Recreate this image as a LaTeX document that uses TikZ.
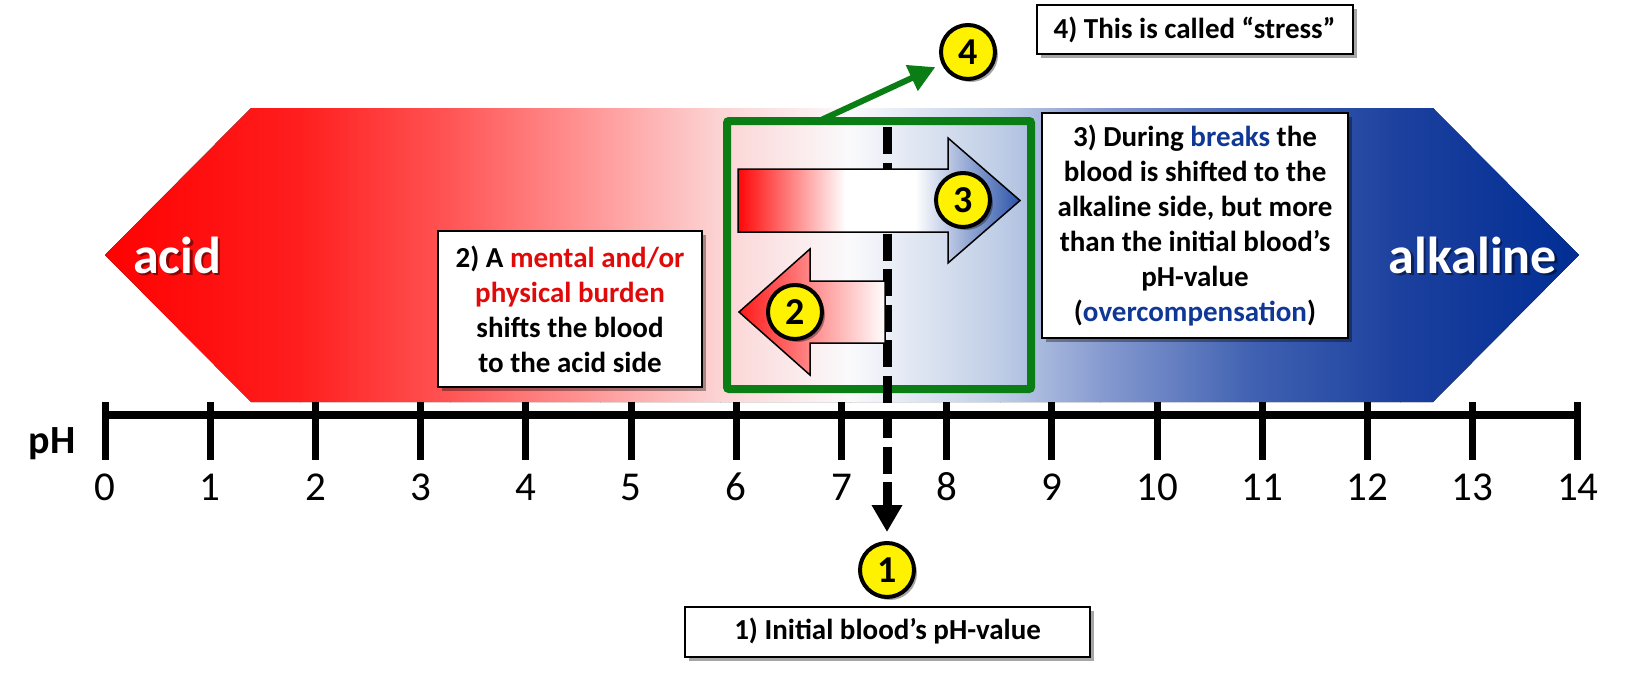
\documentclass[tikz,border=0pt]{standalone}
\usepackage{fontspec}
\setmainfont{Carlito}
\usetikzlibrary{arrows.meta,shadows}
\definecolor{gbox}{RGB}{10,125,20}
\definecolor{txtred}{RGB}{225,10,10}
\definecolor{txtblue}{RGB}{15,55,150}
\definecolor{h0}{RGB}{255,0,0}
\definecolor{h1}{RGB}{255,30,30}
\definecolor{h2}{RGB}{255,85,85}
\definecolor{h3}{RGB}{255,155,155}
\definecolor{h4}{RGB}{252,212,212}
\definecolor{h5}{RGB}{250,250,252}
\definecolor{h6}{RGB}{190,205,230}
\definecolor{h7}{RGB}{135,155,208}
\definecolor{h8}{RGB}{65,98,178}
\definecolor{h9}{RGB}{28,64,158}
\definecolor{h10}{RGB}{0,45,148}
\definecolor{ab}{RGB}{40,80,168}
\tikzset{
  txtbox/.style={draw=black, line width=2pt, fill=white, inner sep=0pt, align=center,
    font=\fontsize{29}{35}\selectfont\bfseries,
    drop shadow={shadow xshift=4pt, shadow yshift=-4pt, opacity=0.35, fill=black}},
  numcirc/.style={circle, draw=black, line width=4pt, fill=yellow, minimum size=54pt, inner sep=0pt,
    font=\fontsize{38}{38}\selectfont\bfseries,
    drop shadow={shadow xshift=3pt, shadow yshift=-3pt, opacity=0.35, fill=black}},
  numlbl/.style={font=\fontsize{41}{41}\selectfont, inner sep=0pt},
  sidelbl/.style={font=\fontsize{52}{52}\selectfont\bfseries, inner sep=0pt, text=white},
  sideshadow/.style={font=\fontsize{52}{52}\selectfont\bfseries, inner sep=0pt, text=black, opacity=0.45},
  bigarrow/.style={draw=black, line width=1.5pt},
}
\begin{document}
\begin{tikzpicture}[x=1pt,y=-1pt]
\useasboundingbox (0,0) rectangle (1626,680);
\fill[white] (0,0) rectangle (1626,680);
% background double arrow
\begin{scope}
\clip (105,255) -- (251,108) -- (1433,108) -- (1579,255) -- (1433,402) -- (251,402) -- cycle;
\fill[left color=h0, right color=h1] (100,100) rectangle (300.5,410);
\fill[left color=h1, right color=h2] (300,100) rectangle (450.5,410);
\fill[left color=h2, right color=h3] (450,100) rectangle (600.5,410);
\fill[left color=h3, right color=h4] (600,100) rectangle (720.5,410);
\fill[left color=h4, right color=h5] (720,100) rectangle (850.5,410);
\fill[left color=h5, right color=h6] (850,100) rectangle (1000.5,410);
\fill[left color=h6, right color=h7] (1000,100) rectangle (1100.5,410);
\fill[left color=h7, right color=h8] (1100,100) rectangle (1250.5,410);
\fill[left color=h8, right color=h9] (1250,100) rectangle (1400.5,410);
\fill[left color=h9, right color=h10] (1400,100) rectangle (1585,410);
\end{scope}
\node[sideshadow, anchor=base west] (acidsh) at (135.5,275.5) {acid};
\node[sidelbl, anchor=base west] (acid) at (133,273) {acid};
\node[sideshadow, anchor=base east] (alksh) at (1559.5,275.5) {alkaline};
\node[sidelbl, anchor=base east] (alk) at (1557,273) {alkaline};
% axis
\draw[line width=8pt] (105,415) -- (1578,415);
\foreach \i in {0,...,14} {
  \pgfmathsetmacro\xx{105+105.2*\i}
  \draw[line width=7pt] (\xx,402) -- (\xx,460);
  \node[numlbl, anchor=base] (n\i) at (\xx,500) {\i};
}
\node[font=\fontsize{40}{40}\selectfont\bfseries, inner sep=0pt, anchor=base] (ph) at (52,453) {pH};
% green box
\node[draw=gbox, line width=8pt, rounded corners=2pt, minimum width=304pt, minimum height=268pt, inner sep=0pt] (gb) at (879,255) {};
% dashed line to circle 1
\node[numcirc] (c1) at (887,570) {1};
\coordinate (d0) at (887,127);
\draw[line width=9pt, dash pattern=on 27pt off 8.5pt, -{Triangle[length=27pt,width=29pt]}, shorten >=9pt] (d0) -- (c1);
% arrow 3
\begin{scope}
\clip (738,169) -- (948,169) -- (948,138) -- (1020,200.5) -- (948,263) -- (948,232) -- (738,232) -- cycle;
\fill[left color=red, right color=white] (735,130) rectangle (845.5,270);
\fill[white] (845,130) rectangle (915.5,270);
\fill[left color=white, right color=ab] (915,130) rectangle (1022,270);
\end{scope}
\draw[bigarrow] (738,169) -- (948,169) -- (948,138) -- (1020,200.5) -- (948,263) -- (948,232) -- (738,232) -- cycle;
% arrow 2
\begin{scope}
\clip (885,281) -- (810,281) -- (810,249) -- (739,312) -- (810,375) -- (810,343) -- (885,343) -- cycle;
\fill[left color=red!92!white, right color=white] (736,240) rectangle (886,380);
\end{scope}
\draw[bigarrow] (885,281) -- (810,281) -- (810,249) -- (739,312) -- (810,375) -- (810,343) -- (885,343) -- cycle;
\node[numcirc] (c3) at (963,200) {3};
\node[numcirc] (c2) at (795,312) {2};
% text boxes
\node[txtbox, minimum width=264pt, minimum height=156pt] (b2) at (570,309)
  {2) A \textcolor{txtred}{mental and/or}\\ \textcolor{txtred}{physical burden}\\ shifts the blood\\ to the acid side};
\node[txtbox, minimum width=306pt, minimum height=225pt] (b3) at (1195,225.5)
  {3) During \textcolor{txtblue}{breaks} the\\ blood is shifted to the\\ alkaline side, but more\\ than the initial blood’s\\ pH-value\\ (\textcolor{txtblue}{overcompensation})};
\node[txtbox, minimum width=405pt, minimum height=50pt] (b1) at (887.5,631.5) {1) Initial blood’s pH-value};
\node[txtbox, minimum width=316pt, minimum height=49pt] (b4) at (1194.5,29.5) {4) This is called “stress”};
% green arrow to circle 4
\node[numcirc] (c4) at (968,52) {4};
\coordinate (g0) at (819,121);
\draw[gbox, line width=6pt, -{Triangle[length=26pt,width=27pt]}, shorten >=7pt] (g0) -- (c4);
\end{tikzpicture}
\end{document}
